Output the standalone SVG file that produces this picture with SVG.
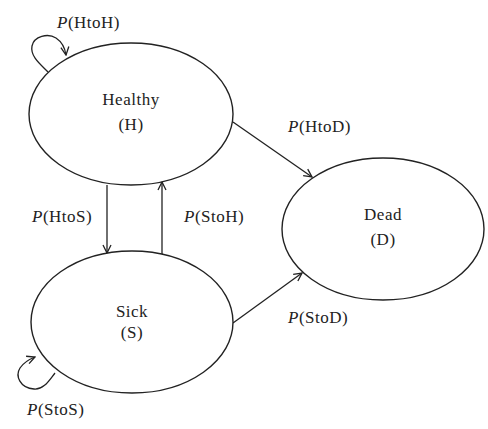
<svg xmlns="http://www.w3.org/2000/svg" width="488" height="429" viewBox="0 0 488 429">
  <defs>
    <marker id="arrow" viewBox="0 0 10 10" refX="9" refY="5" markerWidth="10" markerHeight="10" markerUnits="userSpaceOnUse" orient="auto">
      <path d="M1,1 L9,5 L1,9" fill="none" stroke="#222" stroke-width="1.3"/>
    </marker>
  </defs>
  <style>
    .node { fill: #fff; stroke: #222; stroke-width: 1.4; }
    .edge { fill: none; stroke: #222; stroke-width: 1.3; marker-end: url(#arrow); }
    text { font-family: "Liberation Serif", "Times New Roman", serif; font-size: 17px; fill: #222; letter-spacing: 0.5px; }
    .c { text-anchor: middle; }
    .i { font-style: italic; }
  </style>
  <rect width="488" height="429" fill="#fff"/>

  <g id="connectors">
    <!-- self loops -->
    <path class="edge" d="M48,72 C40,64 30,56 32,46 C34,36 48,33 56,38 C62,42 65,48 66,55"/>
    <path class="edge" d="M55,373 C50,379 44,390 34,389 C20,388 15,376 20,368 C24,362 30,359 35,357"/>
    <!-- Healthy <-> Sick -->
    <path class="edge" d="M107,185 L107,253"/>
    <path class="edge" d="M162,254 L162,182"/>
    <!-- to Dead -->
    <path class="edge" d="M233,122 L312,177"/>
    <path class="edge" d="M233,323 L302,273"/>
  </g>

  <g id="healthy">
    <ellipse class="node" cx="131" cy="114" rx="102" ry="71"/>
    <text class="c" x="131" y="105">Healthy</text>
    <text class="c" x="131" y="130">(H)</text>
  </g>
  <g id="sick">
    <ellipse class="node" cx="132" cy="322" rx="101" ry="71"/>
    <text class="c" x="132" y="317">Sick</text>
    <text class="c" x="132" y="338">(S)</text>
  </g>
  <g id="dead">
    <ellipse class="node" cx="383" cy="229" rx="101" ry="71"/>
    <text class="c" x="383" y="220">Dead</text>
    <text class="c" x="383" y="245">(D)</text>
  </g>

  <g id="labels">
    <text x="57" y="28"><tspan class="i">P</tspan>(HtoH)</text>
    <text x="32" y="222"><tspan class="i">P</tspan>(HtoS)</text>
    <text x="184" y="222"><tspan class="i">P</tspan>(StoH)</text>
    <text x="288" y="132"><tspan class="i">P</tspan>(HtoD)</text>
    <text x="288" y="323"><tspan class="i">P</tspan>(StoD)</text>
    <text x="27" y="415"><tspan class="i">P</tspan>(StoS)</text>
  </g>
</svg>
